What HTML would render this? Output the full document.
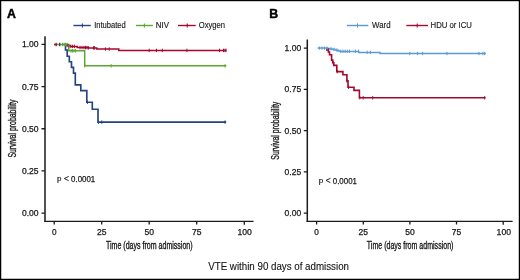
<!DOCTYPE html>
<html><head><meta charset="utf-8">
<style>
html,body{margin:0;padding:0;background:#fff;}
body{width:520px;height:280px;overflow:hidden;position:relative;font-family:"Liberation Sans",sans-serif;}
svg{position:absolute;left:0;top:0;will-change:transform;}
text{font-family:"Liberation Sans",sans-serif;fill:#1a1a1a;stroke:#1a1a1a;stroke-width:0.25px;}
.tk{font-size:8.2px;stroke-width:0.1px;}
.lg{font-size:8.3px;stroke-width:0.15px;}
.ax{font-size:10px;stroke-width:0.35px;}
</style></head>
<body>
<svg width="520" height="280" viewBox="0 0 520 280">
<g shape-rendering="crispEdges">
<rect x="1" y="1" width="518" height="1" fill="rgba(0,0,0,0.2)"/>
<rect x="1" y="278" width="518" height="1" fill="rgba(0,0,0,0.25)"/>
<rect x="1" y="1" width="1" height="278" fill="rgba(0,0,0,0.25)"/>
<rect x="518" y="1" width="1" height="278" fill="rgba(0,0,0,0.22)"/>
<rect x="0" y="0" width="520" height="1" fill="#000"/>
<rect x="0" y="279" width="520" height="1" fill="#000"/>
<rect x="0" y="0" width="1" height="280" fill="#000"/>
<rect x="519" y="0" width="1" height="280" fill="#000"/>
</g>

<!-- ===== Panel A ===== -->
<text x="7" y="17.7" style="font-size:12.3px;font-weight:bold;fill:#000;stroke:#000;stroke-width:0.45px">A</text>

<!-- legend A -->
<g stroke-width="1.4" fill="none">
<path d="M73.4 25.5H90.8" stroke="#23447e"/>
<path d="M136 25.5H152.9" stroke="#5aa832"/>
<path d="M178 25.5H195.7" stroke="#a8062e"/>
</g>
<g stroke-width="1.1" fill="none">
<path d="M82.4 23.4V27.6" stroke="#23447e"/>
<path d="M144.4 23.4V27.6" stroke="#5aa832"/>
<path d="M187.2 23.4V27.6" stroke="#a8062e"/>
</g>
<text class="lg" x="94.2" y="27.9" textLength="31.6" lengthAdjust="spacingAndGlyphs">Intubated</text>
<text class="lg" x="155.8" y="27.9" textLength="13.2" lengthAdjust="spacingAndGlyphs">NIV</text>
<text class="lg" x="198.7" y="27.9" textLength="26.4" lengthAdjust="spacingAndGlyphs">Oxygen</text>

<!-- axes A -->
<g stroke="#1a1a1a" fill="none">
<path d="M45 36.3V222" stroke-width="1.5"/><path d="M44.25 221.4H253.5" stroke-width="1.3"/>
<path d="M41.5 44.4H45M41.5 86.6H45M41.5 128.75H45M41.5 170.95H45M41.5 213.1H45" stroke-width="1.3"/>
<path d="M54.2 221.2V224.6M101.7 221.2V224.6M149.2 221.2V224.6M196.7 221.2V224.6M244.3 221.2V224.7" stroke-width="1.3"/>
</g>
<g class="tk" text-anchor="end">
<text x="38.6" y="47.30" textLength="16.6" lengthAdjust="spacingAndGlyphs">1.00</text>
<text x="38.6" y="89.50" textLength="16.6" lengthAdjust="spacingAndGlyphs">0.75</text>
<text x="38.6" y="131.65" textLength="16.6" lengthAdjust="spacingAndGlyphs">0.50</text>
<text x="38.6" y="173.85" textLength="16.6" lengthAdjust="spacingAndGlyphs">0.25</text>
<text x="38.6" y="216.00" textLength="16.6" lengthAdjust="spacingAndGlyphs">0.00</text>
</g>
<g class="tk" text-anchor="middle">
<text x="54.2" y="235">0</text>
<text x="101.7" y="235" textLength="9.5" lengthAdjust="spacingAndGlyphs">25</text>
<text x="149.2" y="235" textLength="9.5" lengthAdjust="spacingAndGlyphs">50</text>
<text x="196.7" y="235" textLength="9.5" lengthAdjust="spacingAndGlyphs">75</text>
<text x="244.6" y="235" textLength="14.4" lengthAdjust="spacingAndGlyphs">100</text>
</g>
<text class="ax" x="106" y="249.1" textLength="86.6" lengthAdjust="spacingAndGlyphs">Time (days from admission)</text>
<text class="ax" transform="translate(16.2 157.6) rotate(-90)" textLength="58" lengthAdjust="spacingAndGlyphs">Survival probability</text>
<g style="font-size:8.1px"><text x="57.1" y="181.2" style="font-size:8px;stroke-width:0.2px">p</text><text x="71.1" y="181.7" style="font-size:8.7px" textLength="24.1" lengthAdjust="spacingAndGlyphs">0.0001</text></g>
<path d="M68.7 176.4L64.3 178.5L68.7 180.7" fill="none" stroke="#1a1a1a" stroke-width="0.95"/>

<!-- curves A -->
<g fill="none" stroke-width="1.65" stroke-linejoin="miter" stroke-linecap="butt">
<path stroke="#a8062e" stroke-width="1.5" d="M64 44.5H66.7V45.6H70V46.4H77.3V47.6H88.5V47.9H96.8V49H118.8V50.4H226.3"/>
<path stroke="#23447e" d="M64.8 44.5H65.5V50H67.2V56.2H69.3V61.7H71.5V67.4H73.5V73.1H75.3V84.9H80.8V90.6H86.8V102.2H92.3V109.2H98V122.1H226.2"/>
<path stroke="#5aa832" stroke-width="1.5" d="M54.2 44.5H68.8V50.8H84.7V65.8H226.3"/>
</g>
<!-- censor marks A -->
<g stroke-width="1" fill="none">
<path stroke="#5aa832" d="M62.5 42.8V46.2M64 42.8V46.2M65.5 42.8V46.2M67 42.8V46.2M71 49.1V52.5M72.5 49.1V52.5M74 49.1V52.5M75.5 49.1V52.5M84.8 64.1V67.6M111.2 64.1V67.5M225 64.1V67.5"/>
<path stroke="#23447e" d="M87.5 100.5V103.9M98.5 120.4V123.8M101.8 120.4V123.8M225 120.4V123.8"/>
<path stroke="#a8062e" d="M68 43.9V47.3M70.8 44.7V48.1M72.6 44.7V48.1M74.4 44.7V48.1M80 45.9V49.3M82 45.9V49.3M84 45.9V49.3M85.5 45.9V49.3M87 45.9V49.3M88.3 46.2V49.6M93.5 46.2V49.6M94.6 46.2V49.6M105.4 47.3V50.7M109.2 47.3V50.7M149.2 48.7V52.1M156.5 48.7V52.1M162.3 48.7V52.1M186.9 48.7V52.1M219.5 48.7V52.1M223.5 48.7V52.1M225 48.7V52.1M226 48.7V52.1"/>
</g>

<path d="M54.2 44.5H56.3" stroke="#a8062e" stroke-width="1.5"/>
<path d="M56.2 42.7V46.3" stroke="#a8062e" stroke-width="1.2"/>
<path d="M59.7 42.7V46.3" stroke="#23447e" stroke-width="1.3"/>

<!-- ===== Panel B ===== -->
<text x="269.3" y="18.1" style="font-size:12.3px;font-weight:bold;fill:#000;stroke:#000;stroke-width:0.45px">B</text>

<g stroke-width="1.4" fill="none">
<path d="M346.9 25.5H368.3" stroke="#5b9bd5"/>
<path d="M406.3 25.5H428" stroke="#a50d32"/>
</g>
<g stroke-width="1.1" fill="none">
<path d="M357.5 23.4V27.6" stroke="#5b9bd5"/>
<path d="M417.2 23.4V27.6" stroke="#a50d32"/>
</g>
<text class="lg" x="372.1" y="27.9" textLength="18.5" lengthAdjust="spacingAndGlyphs">Ward</text>
<text class="lg" x="430.6" y="27.9" textLength="41.3" lengthAdjust="spacingAndGlyphs">HDU or ICU</text>

<g stroke="#1a1a1a" fill="none">
<path d="M307.3 39.5V222" stroke-width="1.5"/><path d="M306.55 221.4H512.6" stroke-width="1.3"/>
<path d="M303.8 48.05H307.3M303.8 89.35H307.3M303.8 130.65H307.3M303.8 171.9H307.3M303.8 213.2H307.3" stroke-width="1.3"/>
<path d="M316.6 221.25V224.6M363.3 221.25V224.6M409.9 221.25V224.6M456.5 221.25V224.6M503.2 221.25V224.7" stroke-width="1.3"/>
</g>
<g class="tk" text-anchor="end">
<text x="301.2" y="50.95" textLength="16.6" lengthAdjust="spacingAndGlyphs">1.00</text>
<text x="301.2" y="92.25" textLength="16.6" lengthAdjust="spacingAndGlyphs">0.75</text>
<text x="301.2" y="133.55" textLength="16.6" lengthAdjust="spacingAndGlyphs">0.50</text>
<text x="301.2" y="174.80" textLength="16.6" lengthAdjust="spacingAndGlyphs">0.25</text>
<text x="301.2" y="216.10" textLength="16.6" lengthAdjust="spacingAndGlyphs">0.00</text>
</g>
<g class="tk" text-anchor="middle">
<text x="316.6" y="235">0</text>
<text x="363.3" y="235" textLength="9.5" lengthAdjust="spacingAndGlyphs">25</text>
<text x="409.9" y="235" textLength="9.5" lengthAdjust="spacingAndGlyphs">50</text>
<text x="456.5" y="235" textLength="9.5" lengthAdjust="spacingAndGlyphs">75</text>
<text x="503.8" y="235" textLength="14.4" lengthAdjust="spacingAndGlyphs">100</text>
</g>
<text class="ax" x="366.8" y="249.1" textLength="86.6" lengthAdjust="spacingAndGlyphs">Time (days from admission)</text>
<text class="ax" transform="translate(279 159.7) rotate(-90)" textLength="58" lengthAdjust="spacingAndGlyphs">Survival probability</text>
<g style="font-size:8.1px"><text x="318.8" y="183.3" style="font-size:8px;stroke-width:0.2px">p</text><text x="332.8" y="183.6" style="font-size:8.7px" textLength="24.1" lengthAdjust="spacingAndGlyphs">0.0001</text></g>
<path d="M330.4 178.3L326 180.4L330.4 182.6" fill="none" stroke="#1a1a1a" stroke-width="0.95"/>

<g fill="none" stroke-width="1.65">
<path stroke="#a3072d" stroke-width="1.6" d="M326.8 48.1V49.9H328.4V52H329.5V54.7H331.6V60.1H332.7V62.8H333.8V65.4H336.8V71.6H342.9V74.7H346.9V80.9H348V87.3H354V90.4H359.4V97.8H485.6"/>
<path stroke="#5b9bd5" stroke-width="1.5" d="M317.5 48.1H327.5V48.5H330V49H333V49.6H336V50.3H338.5V50.9H340.3V51.4H358.6V52.4H380.1V53.5H485.8"/>
</g>
<g stroke-width="1" fill="none">
<path stroke="#5b9bd5" d="M319.5 46.5V49.7M322 46.5V49.7M324.5 46.5V49.7M327 46.5V49.7M331 47.1V50.5M334 47.7V51.1M337 48.5V51.9M340.8 49.6V53M343 49.6V53M345.1 49.6V53M347.3 49.6V53M349.5 49.6V53M355.4 49.6V53M358.6 49.6V53M367.2 50.7V54.1M370.4 50.7V54.1M409.8 51.8V55.2M417.4 51.8V55.2M422.7 51.8V55.2M447 51.8V55.2M479 51.8V55.2M482.9 51.8V55.2M484.7 51.8V55.2"/>
<path stroke="#a50d32" d="M328.4 48.3V51.7M337.3 69.9V73.3M347 79.2V82.6M348.6 85.6V89M359.8 96.1V99.5M363.2 96.1V99.5M372.7 96.1V99.5M484.7 96.1V99.5M333.3 61.1V64.5"/>
</g>

<!-- bottom title -->
<text x="208.2" y="269.9" textLength="140.8" lengthAdjust="spacingAndGlyphs" style="font-size:10px;fill:#111;stroke:#111;stroke-width:0.1px">VTE within 90 days of admission</text>
</svg>
</body></html>
